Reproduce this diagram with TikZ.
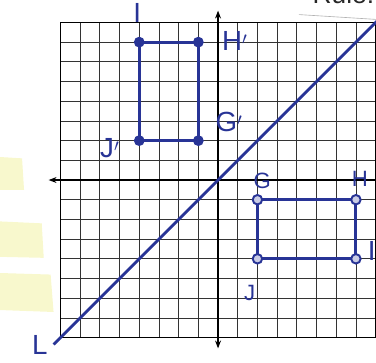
\documentclass[tikz,border=0pt]{standalone}
\usepackage{fontspec}
\setsansfont{Liberation Sans}
\usepackage{xcolor}
\usetikzlibrary{arrows.meta, positioning, calc}

\definecolor{penblue}{RGB}{40,52,150}
\definecolor{hilite}{RGB}{248,248,205}

\begin{document}
\begin{tikzpicture}[
                gridline/.style={black!80, line width=1.1pt},
                border/.style={black, line width=2.4pt},
                axis/.style={black, line width=1.8pt, -{Stealth[length=4mm, width=3mm]}},
                rectline/.style={penblue, line width=4.4pt, line join=round},
                imgdot/.style={circle, fill=penblue, minimum size=0.55cm, inner sep=0pt},
                predot/.style={circle, draw=penblue, fill=penblue!25, line width=2.8pt, minimum size=0.48cm, inner sep=0pt},
                lab/.style={text=penblue, inner sep=0pt, font=\sffamily\fontsize{40}{40}\selectfont}
            ]
                \clip (-11.07,-9.29) rectangle (8.02,9.14);

                % Highlighter marks
                \fill[hilite] (-11.1,1.17) -- (-9.95,1.1) -- (-9.85,-0.5) -- (-11.1,-0.5) -- cycle;
                \fill[hilite] (-11.1,-2.1) -- (-8.95,-2.2) -- (-8.85,-3.95) -- (-11.1,-3.9) -- cycle;
                \fill[hilite] (-11.1,-4.72) -- (-8.5,-4.8) -- (-8.35,-6.7) -- (-11.1,-6.6) -- cycle;

                % Grid
                \draw[gridline] (-8,-8) grid (8,8);
                \draw[border] (-8,-8) rectangle (8,8);

                % Rule (cut off at top)
                \node[anchor=base west, inner sep=0pt, font=\sffamily\fontsize{38}{38}\selectfont, text=black!85] (rule) at (4.8,8.95) {Rule:};
                \draw[black!30, line width=0.9pt] (4.1,8.4) -- (8.1,8.15);

                % Axes
                \coordinate (xlo) at (-8.6,0);
                \coordinate (xhi) at (8.6,0);
                \coordinate (ylo) at (0,-8.55);
                \coordinate (yhi) at (0,8.6);
                \draw[axis] (xhi) -- (xlo);
                \draw[axis, {Stealth[length=4mm, width=3mm]}-{Stealth[length=4mm, width=3mm]}] (ylo) -- (yhi);

                % Line of reflection
                \coordinate (Lstart) at (-8.35,-8.35);
                \coordinate (Lend) at (8.6,8.6);
                \draw[penblue, line width=4pt] (Lstart) -- (Lend);
                \node[lab] (Llab) at (-9.05,-8.4) {L};

                % Pre-image GHIJ
                \coordinate (G) at (2,-1);
                \coordinate (H) at (7,-1);
                \coordinate (I) at (7,-4);
                \coordinate (J) at (2,-4);
                \draw[rectline] (G) -- (H) -- (I) -- (J) -- cycle;
                \foreach \p in {G,H,I,J}
                    \node[predot] at (\p) {};

                % Image G'H'I'J'
                \coordinate (Gp) at (-1,2);
                \coordinate (Hp) at (-1,7);
                \coordinate (Ip) at (-4,7);
                \coordinate (Jp) at (-4,2);
                \draw[rectline] (Ip) -- (Hp) -- (Gp) -- (Jp) -- cycle;
                \foreach \p in {Gp,Hp,Ip,Jp}
                    \node[imgdot] at (\p) {};

                % Labels
                \node[lab, font=\sffamily\fontsize{32}{32}\selectfont] (Glab) at (2.25,-0.05) {G};
                \node[lab, font=\sffamily\fontsize{32}{32}\selectfont] (Hlab) at (7.2,0.05) {H};
                \node[lab] (Ilab) at (7.8,-3.6) {I};
                \node[lab, font=\sffamily\fontsize{32}{32}\selectfont] (Jlab) at (1.6,-5.75) {J};
                \node[lab] (Gplab) at (0.55,2.95) {G$'$};
                \node[lab] (Hplab) at (0.85,7.05) {H$'$};
                \node[lab] (Iplab) at (-4.1,8.5) {I};
                \node[lab] (Jplab) at (-5.5,1.6) {J$'$};
            \end{tikzpicture}
\end{document}
